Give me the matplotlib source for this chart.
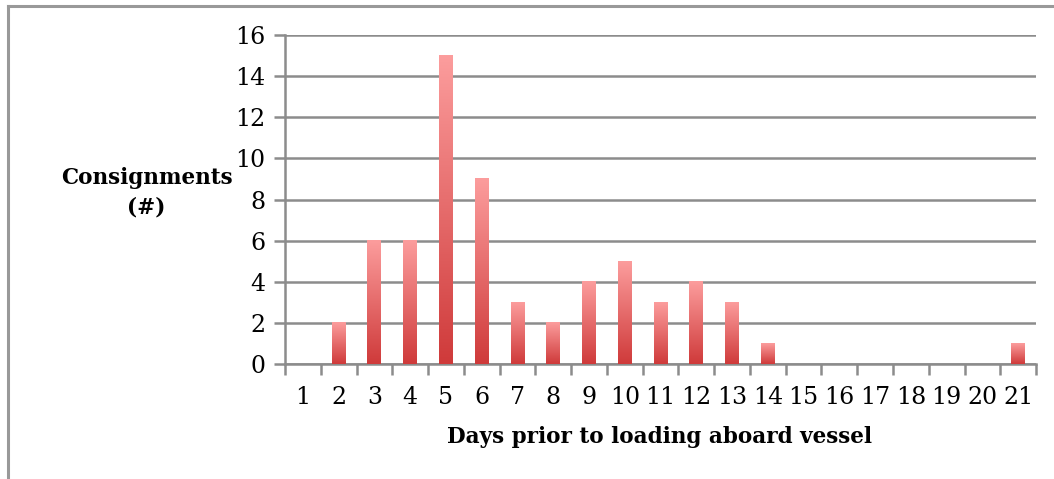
import numpy as np
import matplotlib.pyplot as plt
from matplotlib.colors import LinearSegmentedColormap
from matplotlib.patches import Rectangle

days = list(range(1, 22))
consignments = [0, 2, 6, 6, 15, 9, 3, 2, 4, 5, 3, 4, 3, 1, 0, 0, 0, 0, 0, 0, 1]
y_ticks = [0, 2, 4, 6, 8, 10, 12, 14, 16]

GRID = "#8c8c8c"
BAR_W = 0.39
cmap = LinearSegmentedColormap.from_list("bar", ["#cf3a3a", "#fc9d9d"])

plt.rcParams["font.family"] = ["DejaVu Serif"]

fig = plt.figure(figsize=(10.54, 4.79), dpi=100)
ax = fig.add_axes([0.2704, 0.240, 0.7126, 0.687])

# 渐变柱子：每根柱子底部深红、顶部浅粉
grad = np.linspace(0, 1, 256).reshape(-1, 1)
for d, v in zip(days, consignments):
    if v <= 0:
        continue
    x0, x1 = d - BAR_W / 2, d + BAR_W / 2
    ax.imshow(grad, extent=[x0, x1, 0, v], origin="lower", aspect="auto",
              cmap=cmap, zorder=3)
    ax.add_patch(Rectangle((x0, 0), BAR_W, v, fill=False, lw=0, zorder=3))

ax.set_xlim(0.5, 21.5)
ax.set_ylim(0, 16)
ax.set_yticks(y_ticks)
ax.set_yticklabels([str(t) for t in y_ticks], fontsize=17)
ax.yaxis.grid(True, color=GRID, lw=1.8, zorder=1)
ax.set_axisbelow(True)

# x 轴刻度在类别边界，标签在类别中心
ax.set_xticks(np.arange(0.5, 22, 1.0))
ax.set_xticklabels([])
ax.set_xticks(days, minor=True)
ax.set_xticklabels([str(d) for d in days], minor=True, fontsize=17)
ax.tick_params(axis="x", which="major", length=8, width=1.8, color=GRID, direction="out")
ax.tick_params(axis="x", which="minor", length=0, pad=16)
ax.tick_params(axis="y", length=8, width=1.8, color=GRID, pad=6)

for s in ["top", "right"]:
    ax.spines[s].set_visible(False)
for s in ["left", "bottom"]:
    ax.spines[s].set_color(GRID)
    ax.spines[s].set_linewidth(1.8)

fig.text(0.139, 0.597, "Consignments\n(#)", ha="center", va="center",
         fontsize=15.5, fontweight="bold", linespacing=1.45)
fig.text(0.626, 0.087, "Days prior to loading aboard vessel", ha="center",
         va="center", fontsize=15.5, fontweight="bold")

# 外框
fig.add_artist(plt.Line2D([0.008, 0.008], [0.0, 0.988], color="#999999", lw=2.2,
                          transform=fig.transFigure))
fig.add_artist(plt.Line2D([0.008, 1.0], [0.988, 0.988], color="#999999", lw=2.2,
                          transform=fig.transFigure))

fig.savefig("out.png", dpi=100)
